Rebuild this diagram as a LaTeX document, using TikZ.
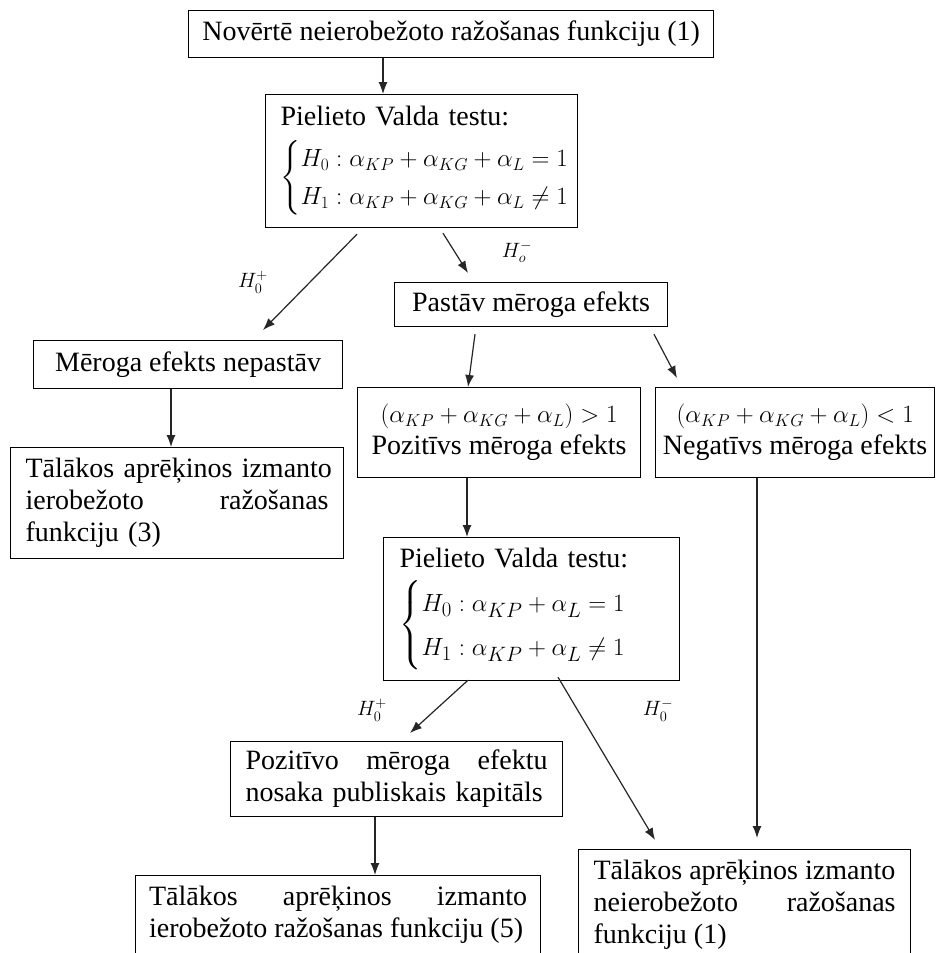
\documentclass[tikz,border=0pt]{standalone}
\usepackage{amsmath}
\usepackage{fontspec}
\setmainfont{Liberation Serif}
\usetikzlibrary{arrows.meta,calc}
\newcommand{\bodyfont}{\fontsize{28}{32}\selectfont\hyphenpenalty=10000\exhyphenpenalty=10000}
\newcommand{\mathafont}{\fontsize{26}{32}\selectfont}
\newcommand{\mathbfont}{\fontsize{30}{36.5}\selectfont}
\newcommand{\lblfont}{\fontsize{21}{24}\selectfont}
\begin{document}
\begin{tikzpicture}[x=1pt,y=-1pt,
  box/.style={draw=black, line width=1.2pt, inner sep=0pt, anchor=north west, font=\bodyfont},
  arr/.style={line width=1.2pt, draw=black!85, -{Latex[length=12pt,width=9pt]}},
  lbl/.style={font=\lblfont, inner sep=0pt}]
\clip (0,0) rectangle (937,953);
\fill[white] (0,0) rectangle (937,953);

\node[box, minimum width=525pt, minimum height=47pt] (b1) at (188,10)
  {Novērtē neierobežoto ražošanas funkciju (1)};

\node[box, minimum width=312pt, minimum height=133pt, text width=282pt, align=left] (b2) at (265,94)
  {Pielieto Valda testu:\\[13pt]
   {\mathafont$\begin{cases} H_0 : \alpha_{KP}+\alpha_{KG}+\alpha_L = 1\\ H_1 : \alpha_{KP}+\alpha_{KG}+\alpha_L \neq 1\end{cases}$}};

\node[box, minimum width=273pt, minimum height=44pt] (b3) at (394,282) {Pastāv mēroga efekts};

\node[box, minimum width=309pt, minimum height=48pt] (b4) at (33,340) {Mēroga efekts nepastāv};

\node[box, minimum width=333pt, minimum height=111pt, text width=303pt, align=left] (b5) at (10,447)
  {\makebox[303pt][s]{Tālākos aprēķinos izmanto}\\ ierobežoto\hfill ražošanas\\ funkciju (3)};

\node[box, minimum width=283pt, minimum height=90pt, align=center] (b6) at (357,387)
  {{\mathafont$\left(\alpha_{KP}+\alpha_{KG}+\alpha_L\right) > 1$}\\ Pozitīvs mēroga efekts};

\node[box, minimum width=279pt, minimum height=90pt, align=center] (b7) at (655,387)
  {{\mathafont$\left(\alpha_{KP}+\alpha_{KG}+\alpha_L\right) < 1$}\\ Negatīvs mēroga efekts};

\node[box, minimum width=296pt, minimum height=143pt, text width=264pt, align=left] (b8) at (383,537)
  {Pielieto Valda testu:\\[11pt]
   {\mathbfont$\begin{cases} H_0 : \alpha_{KP}+\alpha_L = 1\\ H_1 : \alpha_{KP}+\alpha_L \neq 1\end{cases}$}};

\node[box, minimum width=332pt, minimum height=75pt, text width=302pt, align=left] (b9) at (230,741)
  {Pozitīvo\hfill mēroga\hfill efektu\\ nosaka publiskais kapitāls};

\node[box, minimum width=405pt, minimum height=120pt] (b10) at (135,875)
  {\parbox[c][100pt][t]{378pt}{Tālākos\hfill aprēķinos\hfill izmanto\\ ierobežoto ražošanas funkciju (5)}};

\node[box, minimum width=332pt, minimum height=130pt] (b11) at (578,849)
  {\parbox[c][110pt][t]{302pt}{Tālākos aprēķinos izmanto\\ neierobežoto\hfill ražošanas\\ funkciju (1)}};

\node[lbl] (l1) at (253,282) {$H_0^+$};
\node[lbl] (l2) at (517,252) {$H_o^-$};
\node[lbl] (l3) at (372,710) {$H_0^+$};
\node[lbl] (l4) at (658,710) {$H_0^-$};

\draw[arr] ([xshift=195pt]b1.south west) -- ([xshift=118pt]b2.north west);
\draw[arr] ([xshift=92pt,yshift=-6pt]b2.south west) -- ([xshift=230pt,yshift=10pt]b4.north west);
\draw[arr] ([xshift=178pt,yshift=-5pt]b2.south west) -- ([xshift=74pt,yshift=9pt]b3.north west);
\draw[arr] ([xshift=81pt,yshift=-7pt]b3.south west) -- ([xshift=111pt]b6.north west);
\draw[arr] ([xshift=260pt,yshift=-7pt]b3.south west) -- ([xshift=22pt,yshift=9pt]b7.north west);
\draw[arr] ([xshift=138pt]b4.south west) -- ([xshift=161pt]b5.north west);
\draw[arr] ([xshift=110pt]b6.south west) -- ([xshift=84pt]b8.north west);
\draw[arr] ([xshift=85pt,yshift=1pt]b8.south west) -- ([xshift=180pt,yshift=8pt]b9.north west);
\draw[arr] ([xshift=175pt,yshift=4pt]b8.south west) -- ([xshift=77pt,yshift=9pt]b11.north west);
\draw[arr] ([xshift=102pt]b7.south west) -- ([xshift=179pt,yshift=11pt]b11.north west);
\draw[arr] ([xshift=145pt]b9.south west) -- ([xshift=240pt]b10.north west);
\end{tikzpicture}
\end{document}
